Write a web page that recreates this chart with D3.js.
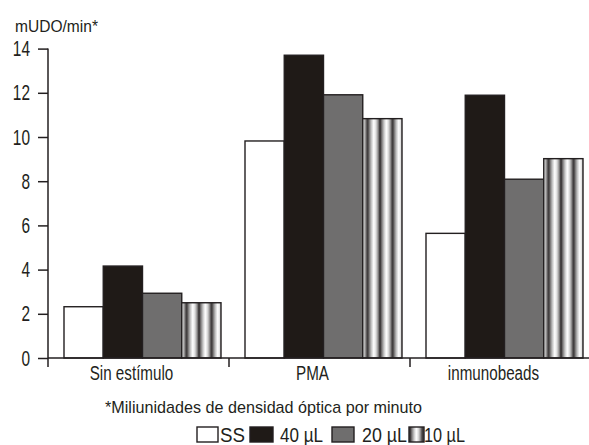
<!DOCTYPE html>
<html>
  <head>
    <meta charset="utf-8" />
    <title>mUDO/min</title>
    <script src="https://d3js.org/d3.v7.min.js"></script>
    <style>
      body {
        margin: 0;
        background-color: #fff;
      }
      svg text {
        font-family: "Liberation Sans", Arial, sans-serif;
        fill: #231f20;
      }
    </style>
  </head>
  <body>
    <svg id="chart"></svg>

    <script>

      // data
      var categories = ["Sin estímulo", "PMA", "inmunobeads"];
      var seriesNames = ["SS", "40 \u00b5L", "20 \u00b5L", "10 \u00b5L"];
      var valuesSS = [2.32, 9.82, 5.64];
      var values40 = [4.16, 13.7, 11.89];
      var values20 = [2.93, 11.91, 8.09];
      var values10 = [2.5, 10.83, 9.02];
      var yTicks = [0, 2, 4, 6, 8, 10, 12, 14];

      var width = 589;
      var height = 445;
      var margin = { top: 48.6, right: -2, bottom: 87, left: 48 };

      var ink = "#231f20";
      var fills = ["#ffffff", "#1f1a17", "#6f6e6e", "url(#stripes)"];

      var allSeries = [valuesSS, values40, values20, values10];
      var data = categories.map(function(c, i) {
        return {
          category: c,
          values: allSeries.map(function(s, j) {
            return { key: seriesNames[j], index: j, value: s[i] };
          })
        };
      });

      // the original uses a condensed typeface, squeeze the glyphs to match
      function condense(selection, factor) {
        selection.each(function() {
          var len = this.getComputedTextLength();
          d3.select(this)
            .attr("textLength", len * factor)
            .attr("lengthAdjust", "spacingAndGlyphs");
        });
      }

      var svg = d3.select("#chart")
        .attr("width", width)
        .attr("height", height);

      // vertical stripe pattern for 10 uL
      var defs = svg.append("defs");
      var grad = defs.append("linearGradient")
        .attr("id", "stripeGrad")
        .attr("x1", 0).attr("x2", 1).attr("y1", 0).attr("y2", 0);
      [[0, "#2a2627"], [0.14, "#7a7878"], [0.32, "#c8c8c8"], [0.5, "#ffffff"],
       [0.68, "#dcdcdc"], [0.86, "#8a8888"], [1, "#2a2627"]].forEach(function(s) {
        grad.append("stop").attr("offset", s[0]).attr("stop-color", s[1]);
      });
      defs.append("pattern")
        .attr("id", "stripes")
        .attr("patternUnits", "userSpaceOnUse")
        .attr("width", 12.5)
        .attr("height", 10)
        .attr("x", 1)
        .append("rect")
        .attr("width", 12.5)
        .attr("height", 10)
        .attr("fill", "url(#stripeGrad)");

      var x0 = d3.scaleBand()
        .domain(categories)
        .range([margin.left, width - margin.right])
        .paddingInner(0)
        .paddingOuter(0);

      var x1 = d3.scaleBand()
        .domain(seriesNames)
        .range([16, 16 + 157])
        .paddingInner(0);

      var y = d3.scaleLinear()
        .domain([0, 14])
        .range([height - margin.bottom, margin.top]);

      // bars
      var groups = svg.append("g").selectAll("g")
        .data(data)
        .enter().append("g")
        .attr("transform", function(d) {
          return "translate(" + x0(d.category) + ",0)";
        });

      groups.selectAll("rect")
        .data(function(d) { return d.values; })
        .enter().append("rect")
        .attr("x", function(d) { return x1(d.key); })
        .attr("width", x1.bandwidth())
        .attr("y", function(d) { return y(d.value); })
        .attr("height", function(d) { return y(0) - y(d.value); })
        .attr("fill", function(d) { return fills[d.index]; })
        .attr("stroke", ink)
        .attr("stroke-width", 1.4);

      // y axis
      var yAxis = d3.axisLeft(y)
        .tickValues(yTicks)
        .tickSize(10)
        .tickPadding(8)
        .tickFormat(d3.format("d"));

      var gy = svg.append("g")
        .attr("transform", "translate(" + margin.left + ",0)")
        .call(yAxis);
      gy.select(".domain").remove();
      gy.append("line")
        .attr("y1", y(0)).attr("y2", y(14))
        .attr("stroke", ink).attr("stroke-width", 1.5);
      gy.selectAll(".tick line").attr("stroke", ink).attr("stroke-width", 1.5);
      gy.selectAll(".tick text")
        .attr("font-size", "22px")
        .style("font-family", "'Liberation Sans', Arial, sans-serif")
        .attr("fill", ink)
        .call(condense, 0.7);

      // x axis line and category separators
      var gx = svg.append("g");
      gx.append("line")
        .attr("x1", margin.left).attr("x2", width)
        .attr("y1", y(0)).attr("y2", y(0))
        .attr("stroke", ink).attr("stroke-width", 1.5);
      gx.selectAll(".sep")
        .data(categories)
        .enter().append("line")
        .attr("class", "sep")
        .attr("x1", function(d) { return x0(d); })
        .attr("x2", function(d) { return x0(d); })
        .attr("y1", y(0)).attr("y2", y(0) + 9)
        .attr("stroke", ink).attr("stroke-width", 1.5);
      gx.selectAll(".cat")
        .data(categories)
        .enter().append("text")
        .attr("class", "cat")
        .attr("x", function(d) { return x0(d) + x0.bandwidth() / 2 - 7; })
        .attr("y", y(0) + 22)
        .attr("text-anchor", "middle")
        .attr("font-size", "20px")
        .text(function(d) { return d; })
        .call(condense, 0.76);

      // y title
      svg.append("text")
        .attr("x", 15)
        .attr("y", 32)
        .attr("font-size", "17px")
        .attr("textLength", 83)
        .attr("lengthAdjust", "spacingAndGlyphs")
        .text("mUDO/min*");

      // footnote
      svg.append("text")
        .attr("x", 105)
        .attr("y", 413)
        .attr("font-size", "17px")
        .attr("textLength", 317)
        .attr("lengthAdjust", "spacingAndGlyphs")
        .text("*Miliunidades de densidad óptica por minuto");

      // legend
      var legendX = [197, 250, 332, 409];
      var legendW = [21, 23, 22, 15];
      var legendGap = [2, 7, 8, 0];
      var legendTextW = [25, 43, 45, 41];
      var legend = svg.append("g")
        .selectAll("g")
        .data(seriesNames)
        .enter().append("g")
        .attr("transform", function(d, i) {
          return "translate(" + legendX[i] + ",427)";
        });
      legend.append("rect")
        .attr("width", function(d, i) { return legendW[i]; })
        .attr("height", 15)
        .attr("fill", function(d, i) { return fills[i]; })
        .attr("stroke", ink)
        .attr("stroke-width", 1.4);
      legend.append("text")
        .attr("x", function(d, i) { return legendW[i] + legendGap[i]; })
        .attr("y", 15)
        .attr("font-size", "20px")
        .attr("textLength", function(d, i) { return legendTextW[i]; })
        .attr("lengthAdjust", "spacingAndGlyphs")
        .text(function(d) { return d; });

    </script>
  </body>
</html>
